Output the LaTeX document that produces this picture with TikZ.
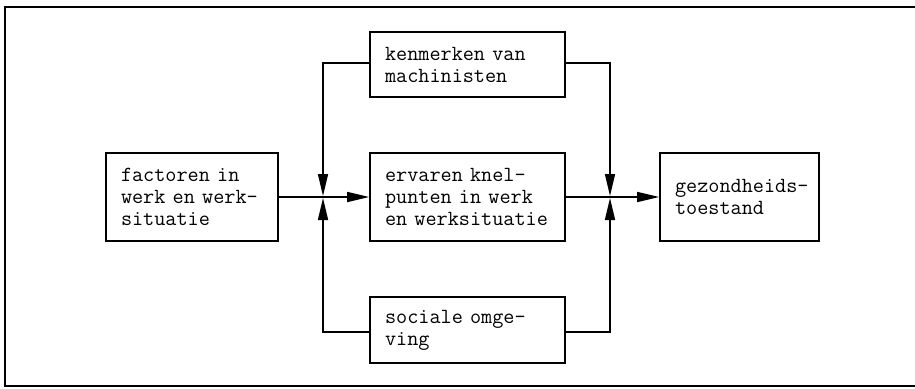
\documentclass[tikz,border=0pt]{standalone}
\usepackage{fontspec}
\usetikzlibrary{arrows.meta}
\newcommand\bxfont{\ttfamily\addfontfeatures{FakeBold=1.8}\fontsize{21.6}{22}\selectfont\spaceskip=\fontdimen2\font\relax}
\tikzset{
  box/.style={draw, line width=1.6pt, rectangle, inner xsep=15pt, inner ysep=0pt,
    align=left, anchor=center, font=\bxfont},
  conn/.style={line width=1.6pt},
  arr/.style={conn, -{Triangle[length=22pt, width=10pt]}}
}
\begin{document}
\begin{tikzpicture}[x=1pt,y=-1pt]
\useasboundingbox (0,0) rectangle (915,388);
\draw[line width=1.6pt] (5,7) rectangle (935,386);
\node[box, minimum width=172pt, minimum height=88pt, text width=142pt] (fac) at (192,197) {factoren in\\werk en werk-\\situatie};
\node[box, minimum width=195pt, minimum height=65pt, text width=165pt] (ken) at (467.5,64.5) {kenmerken van\\machinisten};
\node[box, minimum width=195pt, minimum height=88pt, text width=165pt] (erv) at (467.5,197) {ervaren knel-\\punten in werk\\en werksituatie};
\node[box, minimum width=195pt, minimum height=66pt, text width=165pt] (soc) at (467.5,330) {sociale omge-\\ving};
\node[box, minimum width=159pt, minimum height=88pt, text width=129pt] (gez) at (739.5,197) {gezondheids-\\toestand};
\coordinate (jLt) at (323,196);
\coordinate (jLb) at (323,198);
\coordinate (jRt) at (610,196);
\coordinate (jRb) at (610,198);
\draw[arr] (fac.east) -- (erv.west);
\draw[arr] (erv.east) -- (gez.west);
\draw[arr] ([yshift=1.5pt]ken.west) -| (jLt);
\draw[arr] ([yshift=-2pt]soc.west) -| (jLb);
\draw[arr] ([yshift=1.5pt]ken.east) -| (jRt);
\draw[arr] ([yshift=-2pt]soc.east) -| (jRb);
\end{tikzpicture}
\end{document}
